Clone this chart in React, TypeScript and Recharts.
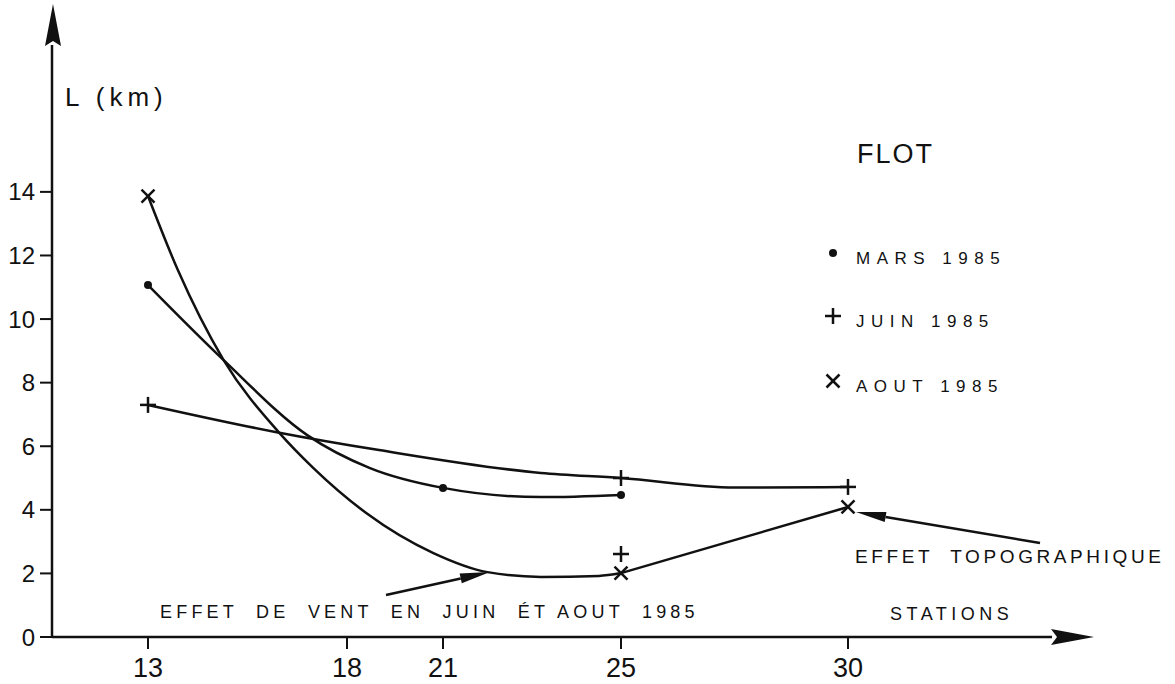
import { ComposedChart, Line, XAxis, YAxis } from 'recharts';

const FONT = '"Liberation Sans", Arial, Helvetica, sans-serif';
const INK = '#111';

// stations on the horizontal axis, L (km) ticks on the vertical one
const stations = [13, 18, 21, 25, 30];
const lTicks = [0, 2, 4, 6, 8, 10, 12, 14];

// curves as drawn (mark = measured point with a symbol)
const marsCurve = [
  { station: 13, L: 11.07, mark: true },
  { station: 14.9, L: 8.71 },
  { station: 17.0, L: 6.35 },
  { station: 18.7, L: 5.32 },
  { station: 21, L: 4.69, mark: true },
  { station: 23.2, L: 4.4 },
  { station: 25, L: 4.47, mark: true },
];

const juinCurve = [
  { station: 13, L: 7.3, mark: true },
  { station: 16.2, L: 6.45 },
  { station: 19.0, L: 5.88 },
  { station: 23.2, L: 5.16 },
  { station: 25, L: 5.0, mark: true },
  { station: 27.5, L: 4.7 },
  { station: 30, L: 4.72, mark: true },
];

const juinExtra = [{ station: 25, L: 2.61, mark: true }];

const aoutCurve = [
  { station: 13, L: 13.87, mark: true },
  { station: 13.75, L: 11.54 },
  { station: 14.9, L: 8.71 },
  { station: 16.3, L: 6.42 },
  { station: 17.15, L: 5.32 },
  { station: 18.6, L: 3.9 },
  { station: 20.7, L: 2.64 },
  { station: 22.0, L: 2.04 },
  { station: 23.2, L: 1.89 },
  { station: 24.5, L: 1.92 },
  { station: 25, L: 2.01, mark: true },
];

// straight stretch 25 -> 30
const aoutRise = [
  { station: 25, L: 2.01 },
  { station: 30, L: 4.09, mark: true },
];

// the original station axis is hand-spaced, not linear
const axisStops = [10.6, 13, 18, 21, 25, 30, 34.5];
const axisShare = [0, 0.096, 0.295, 0.391, 0.569, 0.796, 1];

function warpedScale(dom0?: number[], rng0?: number[]): any {
  let dom = dom0 || [axisStops[0], axisStops[axisStops.length - 1]];
  let rng = rng0 || [0, 1];
  const frac = (v: number) => {
    let i = 0;
    while (i < axisStops.length - 2 && v > axisStops[i + 1]) i++;
    const t = (v - axisStops[i]) / (axisStops[i + 1] - axisStops[i]);
    return axisShare[i] + t * (axisShare[i + 1] - axisShare[i]);
  };
  const s: any = (v: number) => rng[0] + frac(v) * (rng[1] - rng[0]);
  s.domain = (d?: number[]) => {
    if (d === undefined) return dom;
    dom = d;
    return s;
  };
  s.range = (r?: number[]) => {
    if (r === undefined) return rng;
    rng = r;
    return s;
  };
  s.copy = () => warpedScale(dom, rng);
  s.ticks = () => stations;
  s.tickFormat = () => (v: number) => String(v);
  return s;
}

const stationScale = warpedScale();

function Mark({ cx, cy, kind }: { cx: number; cy: number; kind: string }) {
  if (kind === 'dot') return <circle cx={cx} cy={cy} r={4} fill={INK} />;
  if (kind === 'plus')
    return (
      <g stroke={INK} strokeWidth={2.5}>
        <line x1={cx - 8} y1={cy} x2={cx + 8} y2={cy} />
        <line x1={cx} y1={cy - 8} x2={cx} y2={cy + 8} />
      </g>
    );
  return (
    <g stroke={INK} strokeWidth={2.5}>
      <line x1={cx - 6.5} y1={cy - 6.5} x2={cx + 6.5} y2={cy + 6.5} />
      <line x1={cx - 6.5} y1={cy + 6.5} x2={cx + 6.5} y2={cy - 6.5} />
    </g>
  );
}

const markDot = (kind: string) => (props: any) => {
  const { cx, cy, payload, index } = props;
  if (!payload || !payload.mark) return <g key={`n-${kind}-${index}`} />;
  return (
    <g key={`m-${kind}-${index}`}>
      <Mark cx={cx} cy={cy} kind={kind} />
    </g>
  );
};

function Arrow({ x1, y1, x2, y2, len = 30, half = 5 }: any) {
  const dx = x2 - x1;
  const dy = y2 - y1;
  const d = Math.hypot(dx, dy);
  const ux = dx / d;
  const uy = dy / d;
  const bx = x2 - ux * len;
  const by = y2 - uy * len;
  const nx = -uy * half;
  const ny = ux * half;
  return (
    <g>
      <line x1={x1} y1={y1} x2={bx} y2={by} stroke={INK} strokeWidth={2.5} />
      <polygon points={`${x2},${y2} ${bx + nx},${by + ny} ${bx - nx},${by - ny}`} fill={INK} />
    </g>
  );
}

const legend = [
  { kind: 'dot', label: 'MARS 1985', y: 253 },
  { kind: 'plus', label: 'JUIN 1985', y: 316 },
  { kind: 'cross', label: 'AOUT 1985', y: 381 },
];

export default function App() {
  const W = 1175;
  const H = 684;
  const tickFont = { fill: INK, fontFamily: FONT };
  return (
    <div style={{ position: 'absolute', left: 0, top: 0, width: W, height: H, background: '#fff' }}>
      <ComposedChart width={W} height={H} margin={{ top: 45, right: 123, bottom: 0, left: 0 }}>
        <XAxis
          dataKey="station"
          type="number"
          domain={[10.6, 34.5]}
          scale={stationScale}
          ticks={stations}
          interval={0}
          height={47}
          tickSize={12}
          tickMargin={9}
          axisLine={{ stroke: INK, strokeWidth: 2.5 }}
          tickLine={{ stroke: INK, strokeWidth: 2 }}
          tick={{ ...tickFont, fontSize: 27 }}
          allowDataOverflow
        />
        <YAxis
          type="number"
          domain={[0, 18.62]}
          ticks={lTicks}
          interval={0}
          width={52}
          tickSize={12}
          tickMargin={5}
          axisLine={{ stroke: INK, strokeWidth: 2.5 }}
          tickLine={{ stroke: INK, strokeWidth: 2 }}
          tick={{ ...tickFont, fontSize: 24 }}
          allowDataOverflow
        />
        <Line
          data={marsCurve}
          dataKey="L"
          type="monotoneX"
          stroke={INK}
          strokeWidth={2.5}
          dot={markDot('dot')}
          activeDot={false}
          isAnimationActive={false}
        />
        <Line
          data={juinCurve}
          dataKey="L"
          type="monotoneX"
          stroke={INK}
          strokeWidth={2.5}
          dot={markDot('plus')}
          activeDot={false}
          isAnimationActive={false}
        />
        <Line
          data={juinExtra}
          dataKey="L"
          stroke="none"
          dot={markDot('plus')}
          activeDot={false}
          isAnimationActive={false}
        />
        <Line
          data={aoutCurve}
          dataKey="L"
          type="monotoneX"
          stroke={INK}
          strokeWidth={2.5}
          dot={markDot('cross')}
          activeDot={false}
          isAnimationActive={false}
        />
        <Line
          data={aoutRise}
          dataKey="L"
          type="linear"
          stroke={INK}
          strokeWidth={2.5}
          dot={markDot('cross')}
          activeDot={false}
          isAnimationActive={false}
        />
      </ComposedChart>

      <svg
        width={W}
        height={H}
        style={{ position: 'absolute', left: 0, top: 0, pointerEvents: 'none' }}
        fontFamily={FONT}
        fill={INK}
      >
        {/* axis arrowheads */}
        <polygon points="53,4 45,46 53,41 61,46" fill={INK} />
        <polygon points="1094,637 1051,629 1057,637 1051,645" fill={INK} />

        <text x={65} y={106} fontSize={26} letterSpacing={5}>L (km)</text>

        <text x={857} y={163} fontSize={27} letterSpacing={2}>FLOT</text>
        {legend.map((l) => (
          <g key={l.label}>
            <Mark cx={833} cy={l.y} kind={l.kind} />
            <text x={856} y={l.y + 11} fontSize={17} letterSpacing={6.5}>
              {l.label}
            </text>
          </g>
        ))}

        <Arrow x1={1040} y1={543} x2={856} y2={512} />
        <text x={855} y={563} fontSize={19} letterSpacing={3.6} style={{ whiteSpace: 'pre' }}>
          {'EFFET  TOPOGRAPHIQUE'}
        </text>

        <Arrow x1={386} y1={595} x2={490} y2={572} />
        <text x={160} y={618} fontSize={18} letterSpacing={4.2} style={{ whiteSpace: 'pre' }}>
          {'EFFET  DE  VENT  EN  JUIN  ÉT AOUT  1985'}
        </text>

        <text x={890} y={620} fontSize={18} letterSpacing={4.5}>STATIONS</text>
      </svg>
    </div>
  );
}
